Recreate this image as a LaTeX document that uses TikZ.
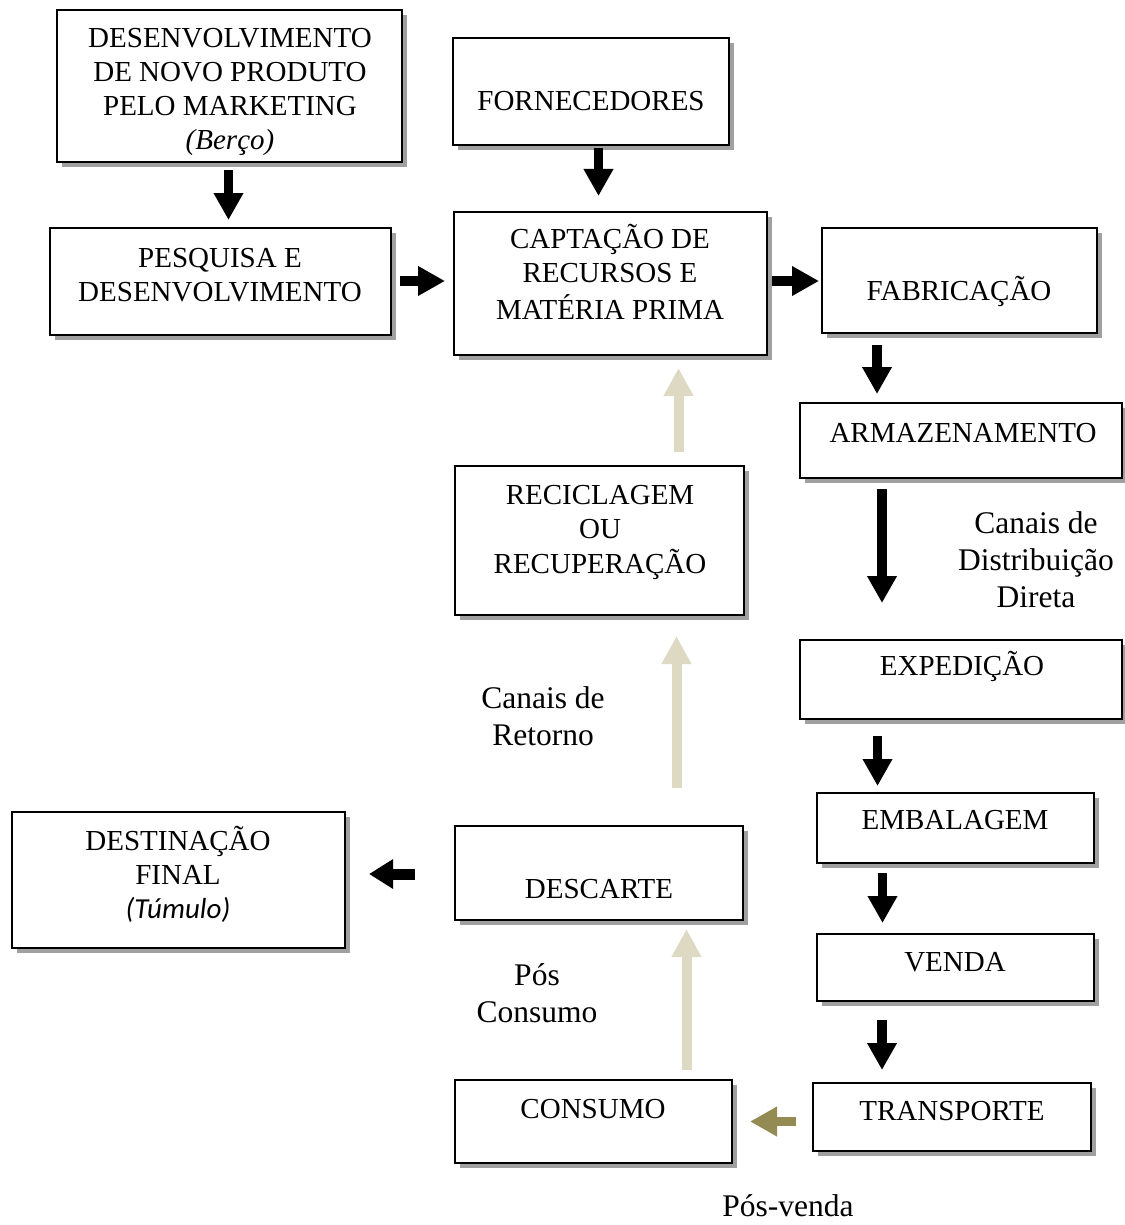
\documentclass[tikz,border=0pt]{standalone}
\usepackage{fontspec}
\setmainfont{Liberation Serif}
\newfontfamily\carl{Carlito}
\usetikzlibrary{arrows.meta,shadows}
\definecolor{shadowgray}{HTML}{A0A0A0}
\definecolor{beigearrow}{HTML}{DDD9C3}
\definecolor{olivearrow}{HTML}{948A54}
\tikzset{
  boxnode/.style={draw=black, line width=2.5pt, fill=white, rectangle, inner sep=0pt,
    drop shadow={shadow xshift=5pt, shadow yshift=-5pt, fill=shadowgray, opacity=1}},
  boxtext/.style={align=center, inner sep=0pt, font=\fontsize{29}{34}\selectfont},
  labeltext/.style={align=center, inner sep=0pt, font=\fontsize{31.5}{37}\selectfont},
  blk/.style={line width=9.5pt, draw=black, -{Triangle[length=27pt,width=28pt]}},
  beige/.style={line width=10pt, draw=beigearrow, -{Triangle[length=28pt,width=28pt]}},
  olive/.style={line width=9.5pt, draw=olivearrow, -{Triangle[length=27pt,width=28pt]}},
}
\newcommand{\bx}[6]{% name, left, top, right, bottom
  \node[boxnode, minimum width={#4-#2}, minimum height={#5-#3}] (#1) at ({(#2+#4)/2},{(#3+#5)/2}) {};}
\begin{document}
\begin{tikzpicture}[x=1pt,y=-1pt]
\useasboundingbox (0,0) rectangle (1124,1225);

% boxes
\bx{desenv}{57}{10}{402}{162}{}
\bx{fornec}{453}{38}{729}{145}{}
\bx{pesq}{50}{228}{391}{335}{}
\bx{capt}{454}{212}{767}{355}{}
\bx{fabr}{822}{228}{1097}{333}{}
\bx{armaz}{800}{403}{1122}{478}{}
\bx{recic}{455}{466}{744}{615}{}
\bx{exped}{800}{640}{1122}{719}{}
\bx{embal}{817}{793}{1094}{863}{}
\bx{venda}{817}{934}{1094}{1001}{}
\bx{transp}{813}{1083}{1091}{1151}{}
\bx{consumo}{455}{1080}{732}{1163}{}
\bx{descarte}{455}{826}{743}{920}{}
\bx{destin}{12}{812}{345}{948}{}

% box texts
\node[boxtext] (t-desenv) at (230,92) {\strut DESENVOLVIMENTO\\\strut DE NOVO PRODUTO\\\strut PELO MARKETING\\\strut\textit{(Berço)}};
\node[boxtext] (t-fornec) at (591,104) {\strut FORNECEDORES};
\node[boxtext] (t-pesq) at (220,278) {\strut PESQUISA E\\\strut DESENVOLVIMENTO};
\node[boxtext] (t-capt) at (610,277) {\strut CAPTAÇÃO DE\\\strut RECURSOS E\\\strut MATÉRIA PRIMA};
\node[boxtext] (t-fabr) at (959,293) {\strut FABRICAÇÃO};
\node[boxtext] (t-armaz) at (963,436) {\strut ARMAZENAMENTO};
\node[boxtext] (t-recic) at (600,532) {\strut RECICLAGEM\\\strut OU\\\strut RECUPERAÇÃO};
\node[boxtext] (t-exped) at (962,668) {\strut EXPEDIÇÃO};
\node[boxtext] (t-embal) at (955,823) {\strut EMBALAGEM};
\node[boxtext] (t-venda) at (955,965) {\strut VENDA};
\node[boxtext] (t-transp) at (952,1114) {\strut TRANSPORTE};
\node[boxtext] (t-consumo) at (593,1112) {\strut CONSUMO};
\node[boxtext] (t-descarte) at (599,892) {\strut DESCARTE};
\node[boxtext] (t-destin) at (178,877) {\strut DESTINAÇÃO\\\strut FINAL\\\strut{\carl\itshape (Túmulo)}};

% free labels
\node[labeltext] (l-distr) at (1036,563) {\strut Canais de\\\strut Distribuição\\\strut Direta};
\node[labeltext] (l-ret) at (543,720) {\strut Canais de\\\strut Retorno};
\node[labeltext] (l-pos) at (537,997) {\strut Pós\\\strut Consumo};
\node[labeltext] (l-posvenda) at (788,1206) {Pós-venda};

% arrow end points
\coordinate (a1s) at (228.5,170); \coordinate (a1e) at (228.5,220);
\coordinate (a2s) at (598.5,148); \coordinate (a2e) at (598.5,196);
\coordinate (a3s) at (400,281); \coordinate (a3e) at (445,281);
\coordinate (a4s) at (772,281); \coordinate (a4e) at (819,281);
\coordinate (a5s) at (877,345); \coordinate (a5e) at (877,394);
\coordinate (a6s) at (882,489); \coordinate (a6e) at (882,603);
\coordinate (a7s) at (877.5,736); \coordinate (a7e) at (877.5,786);
\coordinate (a8s) at (882.5,873); \coordinate (a8e) at (882.5,923);
\coordinate (a9s) at (882,1020); \coordinate (a9e) at (882,1070);
\coordinate (a10s) at (796,1121.5); \coordinate (a10e) at (750,1121.5);
\coordinate (a11s) at (686.5,1070); \coordinate (a11e) at (686.5,929);
\coordinate (a12s) at (676.5,788); \coordinate (a12e) at (676.5,636);
\coordinate (a13s) at (678.5,452); \coordinate (a13e) at (678.5,368);
\coordinate (a14s) at (415,874); \coordinate (a14e) at (369,874);

% arrows
\draw[blk] (a1s) -- (a1e);
\draw[blk] (a2s) -- (a2e);
\draw[blk] (a3s) -- (a3e);
\draw[blk] (a4s) -- (a4e);
\draw[blk] (a5s) -- (a5e);
\draw[blk] (a6s) -- (a6e);
\draw[blk] (a7s) -- (a7e);
\draw[blk] (a8s) -- (a8e);
\draw[blk] (a9s) -- (a9e);
\draw[olive] (a10s) -- (a10e);
\draw[beige] (a11s) -- (a11e);
\draw[beige] (a12s) -- (a12e);
\draw[beige] (a13s) -- (a13e);
\draw[line width=11pt, draw=black, -{Triangle[length=24pt,width=28pt]}] (a14s) -- (a14e);
\end{tikzpicture}
\end{document}
